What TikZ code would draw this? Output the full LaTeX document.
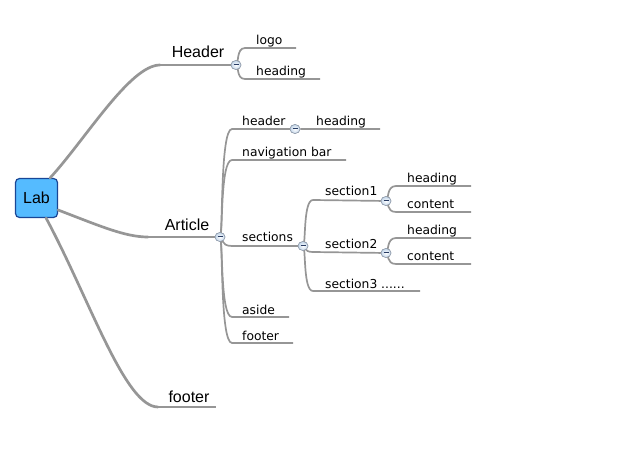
\documentclass[tikz,border=0pt]{standalone}
\usepackage{fontspec}
\setmainfont{Liberation Sans}
\newfontfamily\subfont{DejaVu Sans}
\usetikzlibrary{calc,shapes.geometric}
\definecolor{linegray}{RGB}{150,150,150}
\definecolor{labfill}{RGB}{85,187,255}
\definecolor{labborder}{RGB}{25,70,150}
\definecolor{knobfill}{RGB}{195,214,234}
\definecolor{knobline}{RGB}{140,150,165}
\definecolor{minuscol}{RGB}{40,60,100}
\tikzset{
  main/.style={line width=2.7pt, draw=linegray, line cap=round},
  branch/.style={line width=1.7pt, draw=linegray},
  topic/.style={font=\fontsize{16}{18}\selectfont, inner sep=0pt, anchor=base},
  sub/.style={font=\subfont\fontsize{12.3}{14}\selectfont, inner sep=0pt, anchor=base west},
  knob/.style={ellipse, minimum width=10pt, minimum height=9pt, inner sep=0pt, shade, inner color=white, outer color=knobfill, draw=knobline, line width=0.5pt,
    path picture={\draw[minuscol, line width=1pt] ($(path picture bounding box.west)+(2.5pt,0)$) -- ($(path picture bounding box.east)+(-2.5pt,0)$);}},
  br/.style={to path={.. controls ($(\tikztostart)+(3,0)$) and (\tikztostart |- \tikztotarget) .. (\tikztotarget)}},
}
\begin{document}
\begin{tikzpicture}[x=1pt,y=-1pt]
\useasboundingbox (0,0) rectangle (640,457);

% central node
\node[draw=labborder, line width=1.2pt, fill=labfill, rounded corners=4pt, minimum width=42pt, minimum height=39pt, inner sep=0pt, font=\fontsize{16}{18}\selectfont] (lab) at (36.5,198) {Lab};

% ---- main topics ----
\node[topic] (header) at (198,58) {Header};
\coordinate (hL) at (160,65);
\node[knob] (hk) at (236,65) {};
\node[topic] (article) at (187,231) {Article};
\coordinate (aL) at (148,237);
\node[knob] (ak) at (220,237) {};
\node[topic] (footer) at (189,402) {footer};
\coordinate (fL) at (158,407);
\coordinate (fE) at (216,407);

\draw[main] (lab.north east) ++(-8,0) .. controls (85,140) and (130,65) .. (hL);
\draw[main] (lab.east) ++(0,12) .. controls (100,226) and (125,237) .. (aL);
\draw[main] (lab.south east) ++(-12,0) .. controls (90,300) and (125,407) .. (fL);
\draw[branch] (hL) -- (hk);
\draw[branch] (aL) -- (ak);
\draw[branch] (fL) -- (fE);

% ---- Header children ----
\node[sub] (logo) at (256,45) {logo};
\coordinate (logoS) at (245,48); \coordinate (logoE) at (296,48);
\node[sub] (hhead) at (256,76) {heading};
\coordinate (hheadS) at (245,79); \coordinate (hheadE) at (320,79);
\draw[branch] (hk.center) to[br] (logoS) -- (logoE);
\draw[branch] (hk.center) to[br] (hheadS) -- (hheadE);

% ---- Article children ----
\node[sub] (aheader) at (242,126) {header};
\coordinate (aheaderS) at (232,129);
\node[knob] (ahk) at (295,129) {};
\node[sub] (ahead) at (316,126) {heading};
\coordinate (aheadE) at (380,129);
\node[sub] (nav) at (242,157) {navigation bar};
\coordinate (navS) at (232,160); \coordinate (navE) at (346,160);
\node[sub] (sections) at (242,242) {sections};
\coordinate (secS) at (232,246);
\node[knob] (sk) at (303,246) {};
\node[sub] (aside) at (242,314) {aside};
\coordinate (asideS) at (232,317); \coordinate (asideE) at (289,317);
\node[sub] (afoot) at (242,340) {footer};
\coordinate (afootS) at (232,343); \coordinate (afootE) at (293,343);

\draw[branch] (ak.center) to[br] (aheaderS) -- (ahk) -- (aheadE);
\draw[branch] (ak.center) to[br] (navS) -- (navE);
\draw[branch] (ak.center) to[br] (secS) -- (sk);
\draw[branch] (ak.center) to[br] (asideS) -- (asideE);
\draw[branch] (ak.center) to[br] (afootS) -- (afootE);

% ---- sections children ----
\node[sub] (s1) at (325,196) {section1};
\coordinate (s1S) at (313,200);
\node[knob] (s1k) at (386,201) {};
\node[sub] (s2) at (325,249) {section2};
\coordinate (s2S) at (313,252);
\node[knob] (s2k) at (386,253) {};
\node[sub] (s3) at (325,288) {section3 ......};
\coordinate (s3S) at (313,291); \coordinate (s3E) at (420,291);

\draw[branch] (sk.center) to[br] (s1S) -- (s1k);
\draw[branch] (sk.center) to[br] (s2S) -- (s2k);
\draw[branch] (sk.center) to[br] (s3S) -- (s3E);

% section1 children
\node[sub] (s1h) at (407,183) {heading};
\coordinate (s1hS) at (396,186); \coordinate (s1hE) at (471,186);
\node[sub] (s1c) at (407,209) {content};
\coordinate (s1cS) at (396,212); \coordinate (s1cE) at (471,212);
\draw[branch] (s1k.center) to[br] (s1hS) -- (s1hE);
\draw[branch] (s1k.center) to[br] (s1cS) -- (s1cE);

% section2 children
\node[sub] (s2h) at (407,235) {heading};
\coordinate (s2hS) at (396,238); \coordinate (s2hE) at (471,238);
\node[sub] (s2c) at (407,261) {content};
\coordinate (s2cS) at (396,264); \coordinate (s2cE) at (471,264);
\draw[branch] (s2k.center) to[br] (s2hS) -- (s2hE);
\draw[branch] (s2k.center) to[br] (s2cS) -- (s2cE);

% knobs on top
\foreach \k in {hk,ak,ahk,sk,s1k,s2k}{
  \node[knob] at (\k) {};
}
\end{tikzpicture}
\end{document}
